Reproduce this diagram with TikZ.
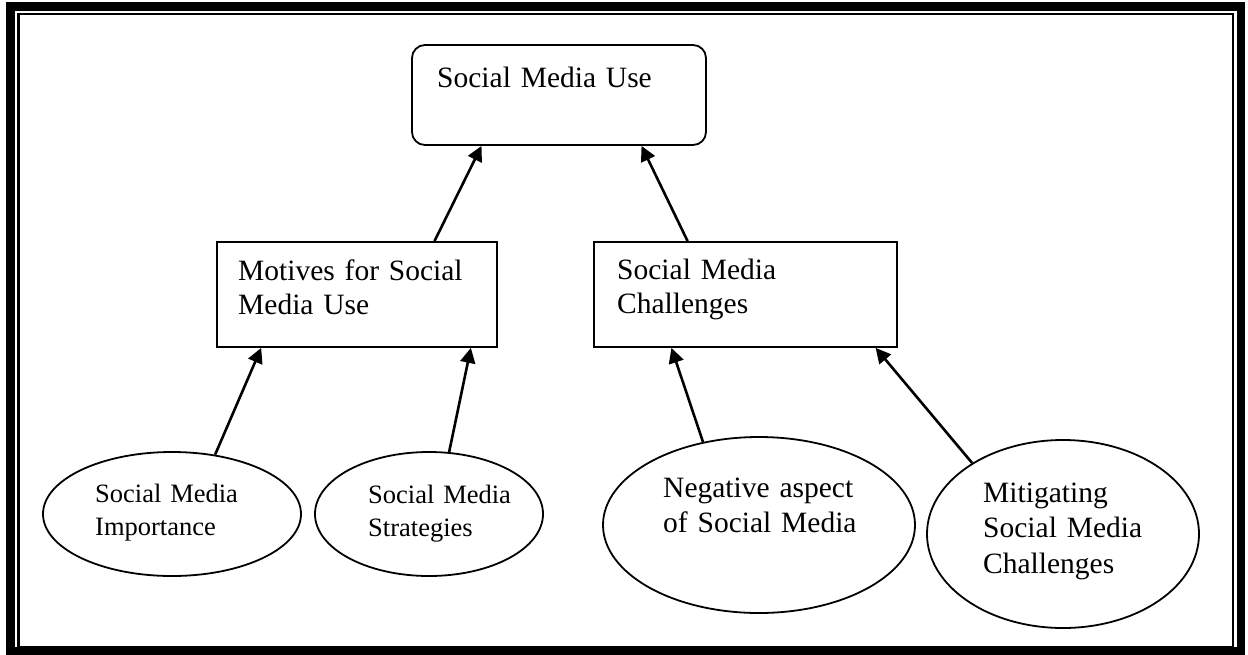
\documentclass[tikz,border=0pt]{standalone}
\usepackage{fontspec}
\setmainfont{Liberation Serif}[WordSpace={0.8,0,0}]
\usetikzlibrary{shapes.geometric,arrows.meta,calc}
\begin{document}
\begin{tikzpicture}[x=1pt,y=-1pt,
  boxshape/.style={draw,line width=1.8pt,inner sep=0pt,minimum width=#1},
  ellshape/.style={draw,ellipse,line width=1.8pt,inner sep=0pt},
  txt/.style={anchor=base west,inner sep=0pt,align=left,text width=320pt},
  arr/.style={line width=2.6pt,-{Triangle[length=15pt,width=15pt]}}]
\useasboundingbox (0,0) rectangle (1248,654);
% frame
\draw[line width=8.5pt] (10.5,6.5) rectangle (1241,651);
\draw[line width=2.4pt] (18.5,14) rectangle (1233,647.5);
% shapes
\node[boxshape=294pt,minimum height=100pt,rounded corners=13pt] (use) at (559,95) {};
\node[boxshape=280pt,minimum height=105pt] (mot) at (357,294.5) {};
\node[boxshape=303pt,minimum height=105pt] (chal) at (745.5,294.5) {};
\node[ellshape,minimum width=258pt,minimum height=124pt] (imp) at (172,514) {};
\node[ellshape,minimum width=228pt,minimum height=124pt] (str) at (429,514) {};
\node[ellshape,minimum width=312pt,minimum height=176pt] (neg) at (759,525) {};
\node[ellshape,minimum width=272pt,minimum height=188pt] (mit) at (1063,534) {};
% texts
\node[txt,font=\fontsize{29.5}{34}\selectfont] (tuse) at (437,87) {Social Media Use};
\node[txt,font=\fontsize{29.5}{34}\selectfont] (tmot) at (238,280) {Motives for Social\\Media Use};
\node[txt,font=\fontsize{29.5}{34}\selectfont] (tchal) at (617,279) {Social Media\\Challenges};
\node[txt,font=\fontsize{26.5}{33}\selectfont] (timp) at (95,502) {Social Media\\Importance};
\node[txt,font=\fontsize{26.5}{33}\selectfont] (tstr) at (368,503) {Social Media\\Strategies};
\node[txt,font=\fontsize{29.5}{35}\selectfont] (tneg) at (663,497) {Negative aspect\\of Social Media};
\node[txt,font=\fontsize{29.5}{35.5}\selectfont] (tmit) at (983,502) {Mitigating\\Social Media\\Challenges};
% arrows
\draw[arr] ($(mot.north west)!0.775!(mot.north east)$) -- ($(use.south west)!0.238!(use.south east)$);
\draw[arr] ($(chal.north west)!0.31!(chal.north east)$) -- ($(use.south west)!0.779!(use.south east)$);
\draw[arr] (imp.54) -- ($(mot.south west)!0.16!(mot.south east)$);
\draw[arr] (str.72) -- ($(mot.south west)!0.904!(mot.south east)$);
\draw[arr] (neg.124) -- ($(chal.south west)!0.257!(chal.south east)$);
\draw[arr] (mit.142) -- ($(chal.south west)!0.927!(chal.south east)$);
\end{tikzpicture}
\end{document}
